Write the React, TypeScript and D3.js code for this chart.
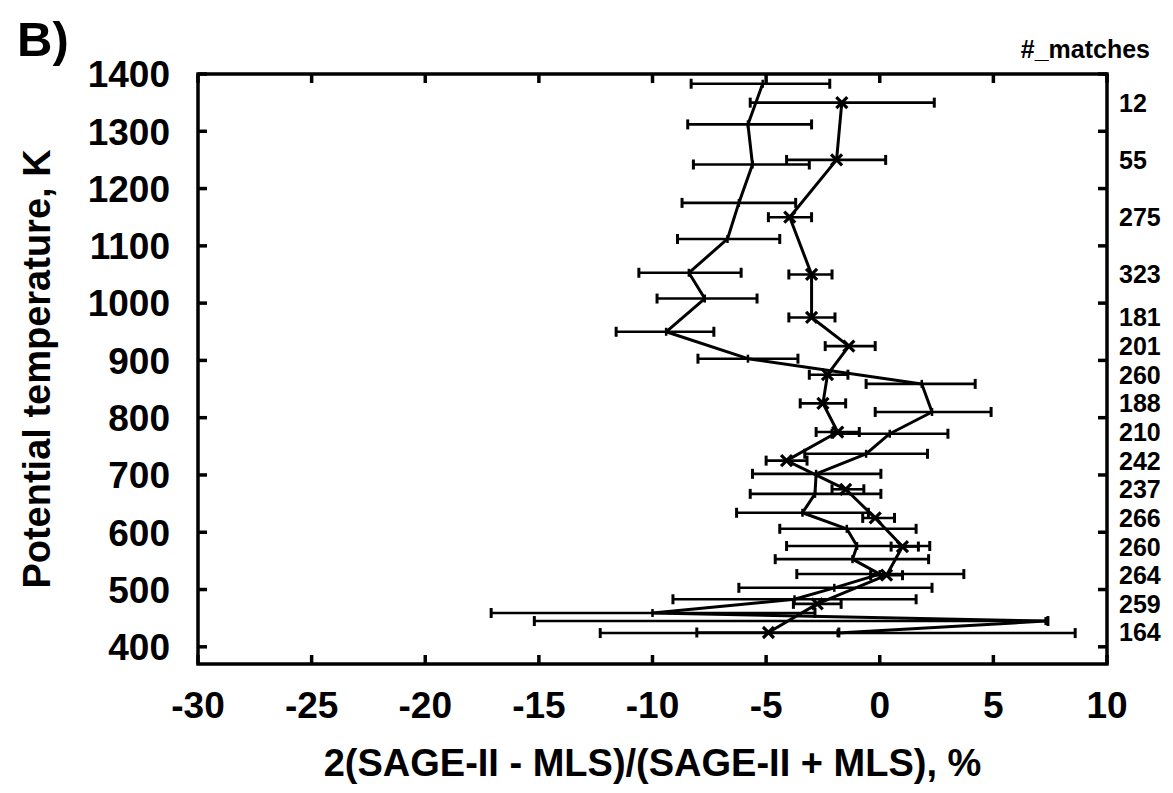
import React, { useRef, useEffect } from "react";
import * as d3 from "d3";

const WIDTH = 1173;
const HEIGHT = 793;
const MARGIN = { top: 74, right: 66, bottom: 129, left: 198 };
const FONT = "'Liberation Sans', Arial, Helvetica, sans-serif";
const INK = "#000";

const xTicks = [-30, -25, -20, -15, -10, -5, 0, 5, 10];
const yTicks = [400, 500, 600, 700, 800, 900, 1000, 1100, 1200, 1300, 1400];

// profile drawn with plain vertices (no symbol)
const thetaA = [1383, 1312, 1242, 1175, 1112, 1053, 1008, 950, 903, 859, 810, 772, 737, 702, 667, 634, 606, 576, 553, 527, 503, 483, 459, 445, 424];
const valueA = [-5.15, -5.8, -5.6, -6.2, -6.7, -8.4, -7.7, -9.4, -5.8, 1.85, 2.3, 0.44, -0.6, -2.8, -2.85, -3.4, -1.45, -1.0, -1.2, 0.0, -2.0, -3.75, -10.0, 7.3, -1.85];
const lowA = [-8.3, -8.45, -8.2, -8.7, -8.9, -10.6, -9.8, -11.6, -8.0, -0.6, -0.2, -2.1, -3.3, -5.6, -5.7, -6.3, -4.4, -4.1, -4.6, -3.65, -6.2, -9.1, -17.1, -15.2, -12.3];
const highA = [-2.2, -3.0, -3.1, -3.7, -4.4, -6.1, -5.4, -7.3, -3.6, 4.2, 4.9, 3.0, 2.1, 0.05, 0.05, -0.5, 1.6, 2.2, 2.15, 3.7, 2.3, 1.6, -2.85, 7.4, 8.6];

// profile drawn with X symbols, one per #_matches entry
const thetaX = [1350, 1250, 1150, 1050, 975, 925, 875, 825, 775, 725, 675, 625, 575, 525, 475, 425];
const valueX = [-1.67, -1.9, -3.96, -3.0, -3.0, -1.36, -2.3, -2.5, -1.85, -4.1, -1.5, -0.2, 1.0, 0.3, -2.75, -4.9];
const lowX = [-5.7, -4.1, -4.9, -4.0, -4.0, -2.4, -3.1, -3.5, -2.8, -5.0, -2.1, -0.75, 0.5, -0.4, -3.8, -8.05];
const highX = [2.4, 0.26, -3.0, -2.1, -1.97, -0.2, -1.4, -1.5, -0.9, -3.2, -0.7, 0.65, 1.7, 1.0, -1.7, -1.8];
const matches = [12, 55, 275, 323, 181, 201, 260, 188, 210, 242, 237, 266, 260, 264, 259, 164];

export default function App() {
  const svgRef = useRef<SVGSVGElement | null>(null);

  useEffect(() => {
    const svg = d3.select(svgRef.current);
    svg.selectAll("*").remove();

    const innerWidth = WIDTH - MARGIN.left - MARGIN.right;
    const innerHeight = HEIGHT - MARGIN.top - MARGIN.bottom;

    svg.append("rect").attr("width", WIDTH).attr("height", HEIGHT).attr("fill", "#fff");

    const x = d3.scaleLinear().domain([-30, 10]).range([0, innerWidth]);
    const y = d3.scaleLinear().domain([370, 1400]).range([innerHeight, 0]);

    const g = svg.append("g").attr("transform", `translate(${MARGIN.left},${MARGIN.top})`);

    g.append("clipPath")
      .attr("id", "plot-clip")
      .append("rect")
      .attr("width", innerWidth)
      .attr("height", innerHeight);

    const plot = g.append("g").attr("clip-path", "url(#plot-clip)");

    const seriesA = thetaA.map((t, i) => ({ t, v: valueA[i], lo: lowA[i], hi: highA[i] }));
    const seriesX = thetaX.map((t, i) => ({ t, v: valueX[i], lo: lowX[i], hi: highX[i], n: matches[i] }));

    const drawBars = (data) => {
      const bars = plot.append("g").attr("stroke", INK).attr("stroke-width", 2.6);
      bars.selectAll(".bar")
        .data(data)
        .join("line")
        .attr("x1", (d) => x(d.lo))
        .attr("x2", (d) => x(d.hi))
        .attr("y1", (d) => y(d.t))
        .attr("y2", (d) => y(d.t));
      const caps = data.flatMap((d) => [{ t: d.t, v: d.lo }, { t: d.t, v: d.hi }]);
      bars.selectAll(".cap")
        .data(caps)
        .join("line")
        .attr("stroke-width", 3)
        .attr("x1", (d) => x(d.v))
        .attr("x2", (d) => x(d.v))
        .attr("y1", (d) => y(d.t) - 5)
        .attr("y2", (d) => y(d.t) + 5);
    };

    drawBars(seriesA);
    drawBars(seriesX);

    const line = d3.line().x((d) => x(d.v)).y((d) => y(d.t));

    plot.append("path")
      .datum(seriesA)
      .attr("fill", "none")
      .attr("stroke", INK)
      .attr("stroke-width", 3)
      .attr("stroke-linejoin", "round")
      .attr("d", line);

    plot.append("path")
      .datum(seriesX)
      .attr("fill", "none")
      .attr("stroke", INK)
      .attr("stroke-width", 3)
      .attr("stroke-linejoin", "round")
      .attr("d", line);

    // small vertex ticks on the plain profile
    plot.append("g")
      .selectAll("line")
      .data(seriesA)
      .join("line")
      .attr("stroke", INK)
      .attr("stroke-width", 2.5)
      .attr("x1", (d) => x(d.v))
      .attr("x2", (d) => x(d.v))
      .attr("y1", (d) => y(d.t) - 4)
      .attr("y2", (d) => y(d.t) + 4);

    // X symbols
    plot.append("g")
      .selectAll("path")
      .data(seriesX)
      .join("path")
      .attr("stroke", INK)
      .attr("stroke-width", 3.2)
      .attr("fill", "none")
      .attr("d", (d) => {
        const cx = x(d.v), cy = y(d.t), s = 5.5;
        return `M${cx - s},${cy - s}L${cx + s},${cy + s}M${cx - s},${cy + s}L${cx + s},${cy - s}`;
      });

    // frame
    g.append("rect")
      .attr("width", innerWidth)
      .attr("height", innerHeight)
      .attr("fill", "none")
      .attr("stroke", INK)
      .attr("stroke-width", 3.5);

    const tickLen = 9;
    // bottom & top ticks (inward)
    const xt = g.append("g").attr("stroke", INK).attr("stroke-width", 3.5);
    xt.selectAll(".xb").data(xTicks).join("line")
      .attr("x1", (d) => x(d)).attr("x2", (d) => x(d))
      .attr("y1", innerHeight).attr("y2", innerHeight - tickLen);
    xt.selectAll(".xt").data(xTicks).join("line")
      .attr("x1", (d) => x(d)).attr("x2", (d) => x(d))
      .attr("y1", 0).attr("y2", tickLen);
    // left & right ticks (inward)
    const yt = g.append("g").attr("stroke", INK).attr("stroke-width", 3.5);
    yt.selectAll(".yl").data(yTicks).join("line")
      .attr("x1", 0).attr("x2", tickLen)
      .attr("y1", (d) => y(d)).attr("y2", (d) => y(d));
    yt.selectAll(".yr").data(yTicks).join("line")
      .attr("x1", innerWidth).attr("x2", innerWidth - tickLen)
      .attr("y1", (d) => y(d)).attr("y2", (d) => y(d));

    // tick labels
    g.append("g")
      .selectAll("text")
      .data(xTicks)
      .join("text")
      .attr("x", (d) => x(d))
      .attr("y", innerHeight + 54)
      .attr("text-anchor", "middle")
      .attr("font-family", FONT)
      .attr("font-weight", "bold")
      .attr("font-size", 37)
      .attr("fill", INK)
      .text((d) => d);

    g.append("g")
      .selectAll("text")
      .data(yTicks)
      .join("text")
      .attr("x", -28)
      .attr("y", (d) => y(d))
      .attr("dy", "0.36em")
      .attr("text-anchor", "end")
      .attr("font-family", FONT)
      .attr("font-weight", "bold")
      .attr("font-size", 37)
      .attr("fill", INK)
      .text((d) => d);

    // #_matches column
    g.append("g")
      .selectAll("text")
      .data(seriesX)
      .join("text")
      .attr("x", innerWidth + 12)
      .attr("y", (d) => y(d.t))
      .attr("dy", "0.36em")
      .attr("font-family", FONT)
      .attr("font-weight", "bold")
      .attr("font-size", 25)
      .attr("fill", INK)
      .text((d) => d.n);

    svg.append("text")
      .attr("x", 1150)
      .attr("y", 58)
      .attr("text-anchor", "end")
      .attr("font-family", FONT)
      .attr("font-weight", "bold")
      .attr("font-size", 25)
      .attr("fill", INK)
      .text("#_matches");

    // axis titles
    svg.append("text")
      .attr("x", MARGIN.left + innerWidth / 2)
      .attr("y", 776)
      .attr("text-anchor", "middle")
      .attr("font-family", FONT)
      .attr("font-weight", "bold")
      .attr("font-size", 38)
      .attr("fill", INK)
      .text("2(SAGE-II - MLS)/(SAGE-II + MLS), %");

    svg.append("text")
      .attr("transform", `translate(50,${MARGIN.top + innerHeight / 2}) rotate(-90)`)
      .attr("text-anchor", "middle")
      .attr("font-family", FONT)
      .attr("font-weight", "bold")
      .attr("font-size", 38)
      .attr("fill", INK)
      .text("Potential temperature, K");

    svg.append("text")
      .attr("x", 17)
      .attr("y", 56)
      .attr("font-family", FONT)
      .attr("font-weight", "bold")
      .attr("font-size", 49)
      .attr("fill", INK)
      .text("B)");
  }, []);

  return (
    <div style={{ position: "absolute", left: 0, top: 0 }}>
      <svg ref={svgRef} width={WIDTH} height={HEIGHT} style={{ display: "block" }} />
    </div>
  );
}
